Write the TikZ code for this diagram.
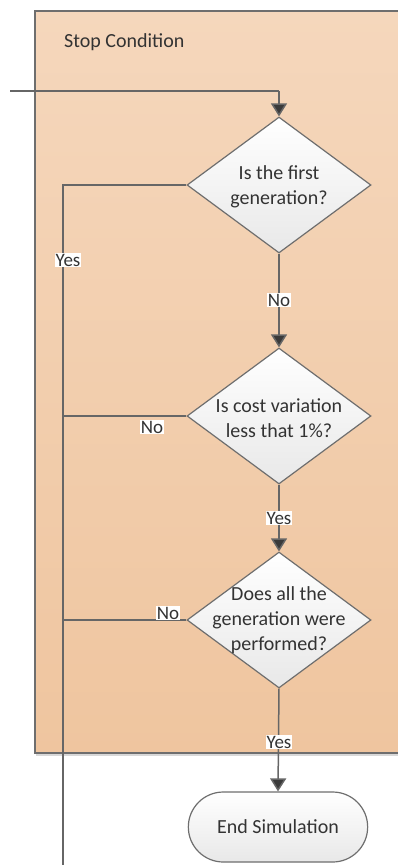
\documentclass[tikz,border=0pt]{standalone}
\usepackage{fontspec}
\setmainfont{Carlito}
\usetikzlibrary{arrows.meta,shapes.geometric,shapes.misc}
\definecolor{paneltop}{HTML}{F5D7BC}
\definecolor{panelbot}{HTML}{EFC59F}
\definecolor{edgegray}{HTML}{6E6E6E}
\definecolor{linegray}{HTML}{666666}
\definecolor{tipgray}{HTML}{3A3A3A}
\definecolor{txtgray}{HTML}{333333}
\definecolor{shadowgray}{HTML}{D8D8D8}
\tikzset{
  panelbox/.style={draw=edgegray, line width=2pt, top color=paneltop, bottom color=panelbot},
  decision/.style={diamond, draw=edgegray, line width=1.2pt, top color=white, bottom color=black!9,
    minimum width=184pt, minimum height=136pt, inner sep=0pt},
  dtext/.style={align=center, text=txtgray, font=\fontsize{20}{25}\selectfont, inner sep=0pt},
  terminal/.style={rounded rectangle, draw=edgegray, line width=1.2pt, top color=white, bottom color=black!9,
    minimum width=186pt, minimum height=70pt, text=txtgray, font=\fontsize{20}{25}\selectfont},
  conn/.style={draw=linegray, line width=1.5pt},
  arr/.style={conn, -{Triangle[width=16pt,length=13pt,fill=tipgray]}},
  lbl/.style={fill=white, inner sep=1pt, text=txtgray, font=\fontsize{19}{22}\selectfont},
  ttl/.style={text=txtgray, font=\fontsize{20}{24}\selectfont, anchor=west, inner sep=0pt}
}
\begin{document}
\begin{tikzpicture}[x=1pt, y=-1pt]
\useasboundingbox (0,0) rectangle (397,865);
\fill[shadowgray] (36,12) rectangle (420,756);
\node[panelbox, anchor=north west, minimum width=380pt, minimum height=742pt, inner sep=0pt] (panel) at (34,10) {};
\node[ttl] (title) at (64,42) {Stop Condition};
\node[decision] (d1) at (279,185) {};
\node[dtext] (t1) at (279,187) {Is the first\\generation?};
\node[decision] (d2) at (279,416) {};
\node[dtext] (t2) at (279,418) {Is cost variation\\less that 1\%?};
\node[decision] (d3) at (279,620) {};
\node[dtext] (t3) at (279,620) {Does all the\\generation were\\performed?};
\node[terminal] (end) at (278,827) {End Simulation};
\coordinate (in) at (10,91);
\coordinate (inc) at (279,91);
\coordinate (ly) at (63,185);
\coordinate (lbot) at (63,865);
\coordinate (l2) at (63,416);
\coordinate (l3) at (63,620);
\draw[conn] (in) -- (inc);
\draw[arr] (inc) -- (d1.north);
\draw[conn] (d1.west) -- (ly) -- (lbot);
\draw[arr] (d1.south) -- (d2.north);
\draw[conn] (d2.west) -- (l2);
\draw[arr] (d2.south) -- (d3.north);
\draw[conn] (d3.west) -- (l3);
\draw[arr] (d3.south) -- (end.north);
\node[lbl] (yes1) at (68,260) {Yes};
\node[lbl] (no1) at (279,300) {No};
\node[lbl] (no2) at (152,427) {No};
\node[lbl] (yes2) at (279,518) {Yes};
\node[lbl] (no3) at (168,613) {No};
\node[lbl] (yes3) at (279,742) {Yes};
\end{tikzpicture}
\end{document}
